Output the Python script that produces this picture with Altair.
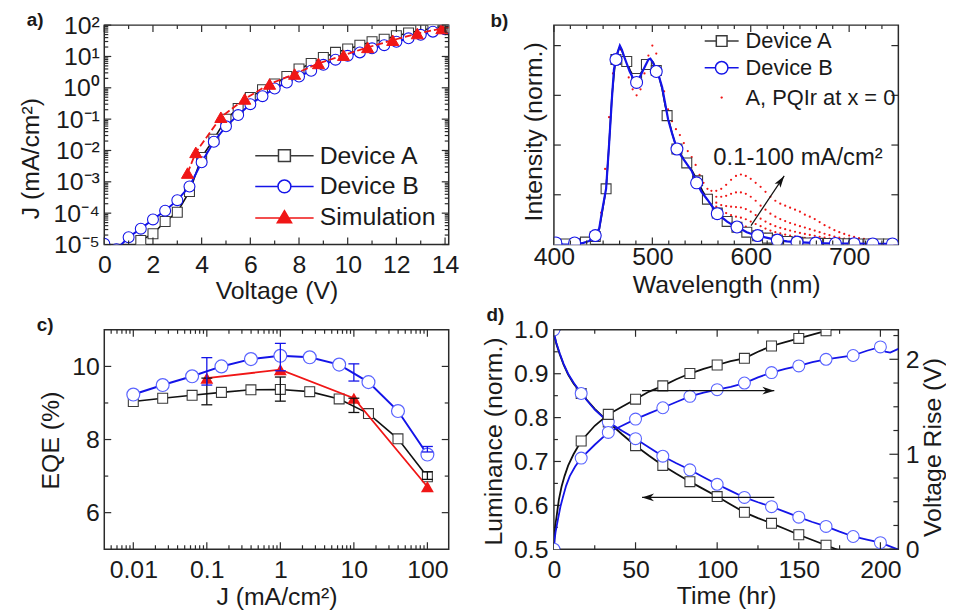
import altair as alt
import pandas as pd

FONT = "Liberation Sans"
INK = "#1a1a1a"
FRAME = "#2a2a2a"
BLACK = "#111111"
MGRAY = "#3a3a3a"
BLUE = "#1414e8"
MBLUE = "#5a64ff"
RED = "#f01616"
W, H = 347, 221

# ---------------- (a) J-V ----------------
A_V = [1.0, 1.5, 2.0, 2.5, 3.0, 3.5, 4.0, 4.5, 5.0, 5.5, 6.0, 6.5, 7.0, 7.5, 8.0, 8.5, 9.0, 9.5,
       10.0, 10.5, 11.0, 11.5, 12.0, 12.5, 13.0, 13.5, 14.0]
A_J = [6.3e-6, 1.35e-5, 2.2e-5, 5.4e-5, 1.07e-4, 4.9e-4, 6.0e-3, 2.3e-2, 0.10, 0.22, 0.49, 0.87,
       1.32, 2.3, 4.0, 6.0, 9.3, 13.5, 17.4, 22.9, 29.5, 35.5, 45.7, 56, 69, 79, 95]
B_V = [0.0, 0.5, 1.0, 1.5, 2.0, 2.5, 3.0, 3.5, 4.0, 4.5, 5.0, 5.5, 6.0, 6.5, 7.0, 7.5, 8.0, 8.5,
       9.0, 9.5, 10.0, 10.5, 11.0, 11.5, 12.0, 12.5, 13.0, 13.5, 14.0]
B_J = [1.05e-5, 7e-6, 1.7e-5, 3.2e-5, 6.3e-5, 1.2e-4, 2.6e-4, 7.1e-4, 4.2e-3, 1.9e-2, 5.9e-2,
       0.135, 0.30, 0.54, 0.95, 1.48, 2.3, 3.5, 5.4, 7.9, 10.5, 13.5, 18.2, 22.9, 29.5, 38, 49, 62, 74]
SIM_V = [3.42, 3.76, 4.79, 5.77, 6.79, 7.82, 8.80, 9.83, 10.82, 11.85, 12.86, 13.87]
SIM_J = [1.9e-3, 8.7e-3, 0.115, 0.44, 1.32, 2.75, 6.0, 11.0, 19.5, 33, 54, 78]
SIM_END_V = [14.6]
SIM_END_J = [97]
A_XTICKS = [0, 2, 4, 6, 8, 10, 12, 14]
A_XMINOR = [1, 3, 5, 7, 9, 11, 13]
A_YTICKS = [1e-5, 1e-4, 1e-3, 1e-2, 1e-1, 1e0, 1e1, 1e2]
A_YLABELS = ["10⁻⁵", "10⁻⁴", "10⁻³", "10⁻²", "10⁻¹", "10⁰", "10¹", "10²"]
A_LEGEND = ["Device A", "Device B", "Simulation"]

# ---------------- (b) spectra ----------------
B_LINE_WL = [400, 405, 410, 415, 421, 425, 430, 436, 442, 446, 449, 453, 456, 459, 461, 463, 465, 467,
             469, 471, 474, 477, 480, 482, 484, 487, 490, 493, 496, 498, 500, 502, 504, 507, 510, 513,
             516, 520, 525, 530, 535, 540, 545, 550, 556, 561, 566, 571, 576, 581, 586, 591, 596, 601,
             607, 617, 627, 637, 647, 657, 666, 686, 705, 724, 744, 750]
B_LINE_I = [0.007, 0.003, 0.0, 0.0, 0.005, 0.003, 0.008, 0.018, 0.045, 0.08, 0.17, 0.28, 0.5, 0.74,
            0.88, 0.93, 0.97, 1.0, 0.98, 0.95, 0.91, 0.87, 0.84, 0.83, 0.815, 0.84, 0.87, 0.90, 0.93,
            0.935, 0.92, 0.9, 0.87, 0.84, 0.79, 0.71, 0.63, 0.56, 0.48, 0.44, 0.405, 0.37, 0.31, 0.265,
            0.225, 0.19, 0.155, 0.135, 0.115, 0.1, 0.088, 0.075, 0.062, 0.053, 0.045, 0.033, 0.022,
            0.016, 0.012, 0.009, 0.007, 0.005, 0.004, 0.003, 0.003, 0.003]
B_MWL = [402, 421, 442, 463, 484, 504, 525, 545, 566, 586, 607, 627, 647, 666, 686, 705, 724, 744]
B_MI = [0.008, 0.008, 0.045, 0.93, 0.815, 0.87, 0.48, 0.31, 0.155, 0.088, 0.045, 0.022, 0.012, 0.007,
        0.005, 0.004, 0.003, 0.003]
A_LINE_WL = [400, 410, 420, 430, 436, 442, 446, 449, 453, 456, 459, 462, 465, 467, 469, 472, 475, 478,
             481, 484, 487, 490, 493, 496, 498, 501, 504, 507, 510, 513, 516, 520, 525, 530, 535, 540,
             546, 551, 556, 561, 566, 571, 576, 581, 586, 591, 596, 607, 617, 627, 637, 648, 658, 668,
             689, 709, 730, 750]
A_LINE_I = [0.004, 0.003, 0.004, 0.012, 0.02, 0.04, 0.075, 0.16, 0.28, 0.5, 0.75, 0.9, 0.97, 0.995,
            0.975, 0.935, 0.905, 0.87, 0.845, 0.835, 0.85, 0.875, 0.9, 0.925, 0.93, 0.915, 0.875, 0.84,
            0.78, 0.7, 0.64, 0.56, 0.48, 0.445, 0.41, 0.375, 0.32, 0.27, 0.228, 0.19, 0.158, 0.136,
            0.116, 0.1, 0.087, 0.074, 0.062, 0.044, 0.032, 0.022, 0.015, 0.011, 0.008, 0.006, 0.004,
            0.003, 0.003, 0.003]
A_MWL = [412, 422, 432, 442, 453, 463, 474, 484, 494, 504, 515, 525, 535, 546, 556, 566, 576, 586, 596,
         607, 617, 627, 637, 648, 658, 668, 679, 689, 699, 709, 720, 730, 740]
A_MI = [0.003, 0.004, 0.012, 0.04, 0.28, 0.93, 0.92, 0.835, 0.905, 0.875, 0.648, 0.48, 0.41, 0.32,
        0.228, 0.158, 0.116, 0.087, 0.062, 0.044, 0.032, 0.022, 0.015, 0.011, 0.008, 0.006, 0.005,
        0.004, 0.004, 0.003, 0.003, 0.003, 0.003]
R_HEAD_WL = [440, 444, 448, 452, 456, 460, 464, 468, 472, 476, 480, 484, 488, 492, 496, 500, 504, 508,
             512, 516, 520, 524, 528, 532, 536, 540, 544, 548, 552, 556]
R_HEAD = [0.02, 0.05, 0.16, 0.38, 0.64, 0.86, 0.96, 0.98, 0.92, 0.84, 0.78, 0.75, 0.78, 0.86, 0.95,
          1.0, 0.96, 0.88, 0.77, 0.68, 0.62, 0.58, 0.55, 0.51, 0.47, 0.44, 0.40, 0.35, 0.31, 0.28]
R_TAIL_WL = [560, 565, 570, 575, 580, 585, 590, 595, 600, 605, 610, 615, 620, 625, 630, 635, 640, 645,
             650, 655, 660, 665, 670, 675, 680, 685, 690, 695, 700, 705, 710, 715, 720, 725, 730, 735,
             740, 745]
R_TAIL_100 = [0.27, 0.27, 0.28, 0.30, 0.325, 0.345, 0.352, 0.345, 0.33, 0.31, 0.29, 0.265, 0.24, 0.22,
              0.205, 0.195, 0.185, 0.175, 0.165, 0.15, 0.14, 0.128, 0.113, 0.097, 0.085, 0.072, 0.062,
              0.053, 0.045, 0.038, 0.032, 0.028, 0.024, 0.02, 0.015, 0.011, 0.008, 0.005]
R_TAIL_30 = [0.25, 0.24, 0.24, 0.245, 0.255, 0.262, 0.262, 0.255, 0.24, 0.22, 0.195, 0.175, 0.155, 0.14,
             0.128, 0.118, 0.108, 0.1, 0.092, 0.085, 0.077, 0.07, 0.062, 0.054, 0.047, 0.04, 0.034,
             0.029, 0.025, 0.021, 0.018, 0.015, 0.012, 0.01, 0.008, 0.006, 0.005, 0.004]
R_TAIL_10 = [0.23, 0.21, 0.198, 0.193, 0.19, 0.188, 0.186, 0.178, 0.165, 0.148, 0.13, 0.115, 0.102,
             0.092, 0.084, 0.077, 0.07, 0.064, 0.058, 0.053, 0.048, 0.044, 0.039, 0.034, 0.03, 0.026,
             0.022, 0.019, 0.017, 0.014, 0.012, 0.01, 0.008, 0.007, 0.006, 0.005, 0.004, 0.003]
R_TAIL_1 = [0.22, 0.19, 0.172, 0.158, 0.148, 0.14, 0.135, 0.127, 0.115, 0.103, 0.092, 0.08, 0.07, 0.062,
            0.056, 0.05, 0.045, 0.041, 0.037, 0.033, 0.03, 0.027, 0.024, 0.021, 0.018, 0.016, 0.014,
            0.012, 0.01, 0.009, 0.008, 0.007, 0.006, 0.005, 0.004, 0.004, 0.003, 0.003]
R_TAIL_01 = [0.21, 0.18, 0.158, 0.138, 0.122, 0.11, 0.1, 0.09, 0.08, 0.07, 0.061, 0.053, 0.046, 0.04,
             0.035, 0.031, 0.027, 0.024, 0.021, 0.019, 0.017, 0.015, 0.013, 0.011, 0.01, 0.009, 0.008,
             0.007, 0.006, 0.005, 0.005, 0.004, 0.004, 0.003, 0.003, 0.003, 0.002, 0.002]
B_XTICKS = [400, 500, 600, 700]
B_XMINOR = [416.7, 433.3, 450, 466.7, 483.3, 516.7, 533.3, 550, 566.7, 583.3, 616.7, 633.3, 650, 666.7,
            683.3, 716.7, 733.3]
B_YTICKS = [0.25, 0.5, 0.75, 1.0]
B_LEGEND = ["Device A", "Device B", "A, PQIr at x = 0"]
B_NOTE = "0.1-100 mA/cm²"
B_NOTE_POS = (562, 0.435)
B_ARROW = (600.3, 0.095, 634, 0.345)

# ---------------- (c) EQE ----------------
C_J = [0.01, 0.0251, 0.0631, 0.158, 0.398, 1.0, 2.51, 6.31, 15.8, 39.8, 100]
C_A = [9.04, 9.13, 9.21, 9.29, 9.36, 9.37, 9.31, 9.11, 8.71, 8.02, 6.98]
C_B = [9.23, 9.49, 9.73, 10.0, 10.2, 10.29, 10.25, 10.05, 9.57, 8.78, 7.59]
C_SIM_J = [0.1, 1, 10, 100]
C_SIM = [9.68, 9.91, 9.13, 6.71]
C_ERR_J = [0.1, 1, 10, 100]
C_ERR_A_LO = [8.95, 9.05, 8.74, 6.91]
C_ERR_A_HI = [9.68, 9.71, 9.13, 7.12]
C_ERR_B_LO = [9.49, 9.88, 9.60, 7.66]
C_ERR_B_HI = [10.24, 10.63, 10.07, 7.81]
C_XTICKS = [0.01, 0.1, 1, 10, 100]
C_XMINOR = [m * 10.0 ** k for k in range(-3, 2) for m in range(2, 10) if 0.0041 < m * 10.0 ** k < 195]
C_YTICKS = [6, 8, 10]
C_YMINOR = [7, 9]

# ---------------- (d) lifetime ----------------
LUM_T = [0, 0.5, 1.5, 3.6, 6, 8.7, 12, 16.7, 25, 33.3, 41.7, 50, 58.3, 66.7, 75, 83.3, 91.7, 100,
         108.3, 116.7, 125, 133.3, 141.7, 150, 158.3, 166.7, 175, 183.3, 191.7, 200, 211]
LUM_B = [1.0, 0.985, 0.97, 0.946, 0.922, 0.90, 0.88, 0.855, 0.818, 0.79, 0.77, 0.752, 0.732, 0.712,
         0.696, 0.681, 0.664, 0.648, 0.633, 0.618, 0.607, 0.597, 0.585, 0.573, 0.562, 0.552, 0.54,
         0.529, 0.522, 0.515, 0.499]
LUM_A = [1.0, 0.984, 0.968, 0.944, 0.92, 0.898, 0.878, 0.855, 0.82, 0.79, 0.762, 0.736, 0.713, 0.691,
         0.672, 0.654, 0.637, 0.620, 0.602, 0.584, 0.571, 0.559, 0.546, 0.533, 0.521, 0.509, 0.497,
         0.485, 0.474, 0.463, 0.45]
VA_T = [0, 0.3, 0.8, 1.6, 3, 4.7, 6.5, 8.7, 12, 16.7, 25, 33.3, 41.7, 50, 58.3, 66.7, 75, 83.3, 91.7,
        100, 108.3, 116.7, 125, 133.3, 141.7, 150, 158.3, 166.7, 175]
VA = [0, 0.12, 0.25, 0.34, 0.52, 0.66, 0.77, 0.88, 1.0, 1.14, 1.30, 1.42, 1.50, 1.58, 1.66, 1.72, 1.79,
      1.85, 1.90, 1.94, 1.98, 2.01, 2.08, 2.14, 2.18, 2.22, 2.26, 2.30, 2.34]
VB_T = [0, 0.4, 1, 2.2, 4, 5.7, 7.5, 9.7, 13, 16.7, 25, 33.3, 41.7, 50, 58.3, 66.7, 75, 83.3, 91.7,
        100, 108.3, 116.7, 125, 133.3, 141.7, 150, 158.3, 166.7, 175, 183.3, 191.7, 200, 203, 206, 211]
VB = [0, 0.1, 0.18, 0.29, 0.45, 0.56, 0.67, 0.77, 0.87, 0.96, 1.10, 1.23, 1.30, 1.37, 1.43, 1.49, 1.55,
      1.61, 1.65, 1.68, 1.71, 1.75, 1.81, 1.86, 1.90, 1.93, 1.97, 2.0, 2.02, 2.04, 2.09, 2.13, 2.08,
      2.07, 2.11]
D_MARK_T = [0, 16.7, 33.3, 50, 66.7, 83.3, 100, 116.7, 133.3, 150, 166.7, 183.3, 200]
D_ARROW_R = (54, 135, 1.67)
D_ARROW_L = (135, 54, 0.618)
D_XTICKS = [0, 50, 100, 150, 200]
D_XMINOR = [25, 75, 125, 175]
D_YTICKS = [0.5, 0.6, 0.7, 0.8, 0.9, 1.0]
D_YMINOR = [0.55, 0.65, 0.75, 0.85, 0.95]
D_RTICKS = [0, 1, 2]
D_RMINOR = [0.25, 0.5, 0.75, 1.25, 1.5, 1.75, 2.25]

PANEL_LABELS = ["a)", "b)", "c)", "d)"]

# ---------------- helpers ----------------
MAJ, MIN = 7, 4


def axis(title, values=None, fmt=None, label_expr=None, labels=True, lpad=6, tx=None, ty=None,
         orient=None, tangle=None):
    kw = dict(title=title, grid=False, ticks=False, domain=False, tickSize=0, labels=labels,
              labelFont=FONT, titleFont=FONT, labelFontSize=25, titleFontSize=25,
              labelColor=INK, titleColor=INK, titleFontWeight="normal", labelPadding=lpad,
              titleBaseline="alphabetic", labelFlush=False, labelOverlap=False, labelBound=False)
    if values is not None:
        kw["values"] = values
    if fmt is not None:
        kw["format"] = fmt
    if label_expr is not None:
        kw["labelExpr"] = label_expr
    if tx is not None:
        kw["titleX"] = tx
    if ty is not None:
        kw["titleY"] = ty
    if orient is not None:
        kw["orient"] = orient
    if tangle is not None:
        kw["titleAngle"] = tangle
    return alt.Axis(**kw)


def X(f, s, a=None):
    return alt.X(f, scale=s, axis=a) if a is not None else alt.X(f, scale=s)


def Y(f, s, a=None):
    return alt.Y(f, scale=s, axis=a) if a is not None else alt.Y(f, scale=s)


def xy(xf, yf, xs, ys, xa=None, ya=None):
    return dict(x=X(xf, xs, xa), y=Y(yf, ys, ya))


def ticks(vals, scale, side, length):
    df = pd.DataFrame({"v": vals})
    m = alt.Chart(df).mark_rule(color=FRAME, strokeWidth=1.2)
    if side in ("bottom", "top"):
        enc = {"x": X("v:Q", scale)}
        if side == "bottom":
            enc["y"], enc["y2"] = alt.value(H), alt.value(H - length)
        else:
            enc["y"], enc["y2"] = alt.value(0), alt.value(length)
    else:
        enc = {"y": Y("v:Q", scale)}
        if side == "left":
            enc["x"], enc["x2"] = alt.value(0), alt.value(length)
        else:
            enc["x"], enc["x2"] = alt.value(W), alt.value(W - length)
    return m.encode(**enc)


def frame_ticks(xs, ys, xmaj, xmin, ymaj, ymin):
    out = []
    for side in ("bottom", "top"):
        out.append(ticks(xmaj, xs, side, MAJ))
        if xmin:
            out.append(ticks(xmin, xs, side, MIN))
    for side in ("left", "right"):
        out.append(ticks(ymaj, ys, side, MAJ))
        if ymin:
            out.append(ticks(ymin, ys, side, MIN))
    return out


def label(i, dx, dy):
    return alt.Chart(pd.DataFrame({"t": [PANEL_LABELS[i]]})).mark_text(
        align="left", baseline="alphabetic", font=FONT, fontSize=19, fontWeight="bold", color=INK
    ).encode(text="t:N", x=alt.value(dx), y=alt.value(dy))


def leg(path, lx, ly, loff, fs, size=144, sw=1.5):
    return alt.Legend(title=None, orient="none", legendX=lx, legendY=ly, symbolType=path,
                      symbolSize=size, symbolStrokeWidth=sw, labelFont=FONT, labelFontSize=fs,
                      labelColor=INK, labelOffset=loff, padding=0, symbolOpacity=1)


# ---------------- panel a ----------------
xs_a = alt.Scale(domain=[0, 14.15], nice=False, zero=False)
ys_a = alt.Scale(type="log", domain=[1e-5, 1e2], nice=False)
expr = ""
for v, l in zip(A_YTICKS[:-1], A_YLABELS[:-1]):
    expr += f"datum.value < {v * 3} ? '{l}' : "
expr += f"'{A_YLABELS[-1]}'"
xa = axis("Voltage (V)", values=A_XTICKS, fmt="d", lpad=8, tx=W / 2, ty=54)
ya = axis("J (mA/cm²)", values=A_YTICKS, label_expr=expr, lpad=5, tx=-66, ty=134)

dA = pd.DataFrame({"V": A_V, "J": A_J, "s": A_LEGEND[0]})
dB = pd.DataFrame({"V": B_V, "J": B_J, "s": A_LEGEND[1]})
dS = pd.DataFrame({"V": SIM_V, "J": SIM_J, "s": A_LEGEND[2]})
dSl = pd.DataFrame({"V": SIM_V + SIM_END_V, "J": SIM_J + SIM_END_J})

SQ_A = "M-4.9,0L-1,0M1,0L4.9,0M-1,-1L1,-1L1,1L-1,1Z"
CI_A = "M-4.9,0L-1.08,0M1.08,0L4.9,0M1.08,0A1.08,1.08,0,1,1,-1.08,0A1.08,1.08,0,1,1,1.08,0Z"
TR_A = "M-4.9,0.15L4.9,0.15M0,-1.1L1.2,0.95L-1.2,0.95Z"
LX_A, LOFF_A = 169, 23

pa_layers = [
    alt.Chart(dA).mark_line(color=BLACK, strokeWidth=1.6, clip=True).encode(
        **xy("V:Q", "J:Q", xs_a, ys_a, xa, ya)),
    alt.Chart(dA).mark_point(shape="square", size=100, filled=False, fill="white", strokeWidth=1.1,
                             opacity=1, clip=True).encode(
        **xy("V:Q", "J:Q", xs_a, ys_a),
        color=alt.Color("s:N", scale=alt.Scale(domain=[A_LEGEND[0]], range=[MGRAY]),
                        legend=leg(SQ_A, LX_A, 119, LOFF_A, 25))),
    alt.Chart(dB).mark_line(color=BLUE, strokeWidth=2, clip=True).encode(
        **xy("V:Q", "J:Q", xs_a, ys_a)),
    alt.Chart(dB).mark_point(shape="circle", size=121, filled=False, fill="white", strokeWidth=1.1,
                             opacity=1, clip=True).encode(
        **xy("V:Q", "J:Q", xs_a, ys_a),
        color=alt.Color("s:N", scale=alt.Scale(domain=[A_LEGEND[1]], range=[BLUE]),
                        legend=leg(CI_A, LX_A, 150, LOFF_A, 25))),
    alt.Chart(dSl).mark_line(color=RED, strokeWidth=1.8, strokeDash=[7, 3], clip=True).encode(
        **xy("V:Q", "J:Q", xs_a, ys_a)),
    alt.Chart(dS).mark_point(shape="triangle-up", size=150, filled=True, stroke=RED, strokeWidth=1,
                             opacity=1, clip=True).encode(
        **xy("V:Q", "J:Q", xs_a, ys_a),
        color=alt.Color("s:N", scale=alt.Scale(domain=[A_LEGEND[2]], range=[RED]),
                        legend=leg(TR_A, LX_A, 181, LOFF_A, 25))),
]
pa_layers += frame_ticks(xs_a, ys_a, A_XTICKS, A_XMINOR, A_YTICKS,
                         [m * 10.0 ** k for k in range(-5, 2) for m in range(2, 10)])
pa_layers.append(label(0, -78, 1))
pa = alt.layer(*pa_layers).resolve_scale(color="independent").properties(width=W, height=H)

# ---------------- panel b ----------------
xs_b = alt.Scale(domain=[400, 750], nice=False, zero=False)
ys_b = alt.Scale(domain=[0, 1.103], nice=False, zero=False)
xb = axis("Wavelength (nm)", values=B_XTICKS, fmt="d", lpad=0, tx=W / 2, ty=48)
yb = axis("Intensity (norm.)", values=B_YTICKS, labels=False, tx=-13, ty=107)

red_wl, red_i = list(R_HEAD_WL), list(R_HEAD)
for tail in (R_TAIL_100, R_TAIL_30, R_TAIL_10, R_TAIL_1, R_TAIL_01):
    red_wl += R_TAIL_WL
    red_i += tail
dR = pd.DataFrame({"wl": red_wl, "I": red_i, "s": B_LEGEND[2]})
dAl = pd.DataFrame({"wl": A_LINE_WL, "I": A_LINE_I})
dAm = pd.DataFrame({"wl": A_MWL, "I": A_MI, "s": B_LEGEND[0]})
dBl = pd.DataFrame({"wl": B_LINE_WL, "I": B_LINE_I})
dBm = pd.DataFrame({"wl": B_MWL, "I": B_MI, "s": B_LEGEND[1]})

SQ_B = "M-2.85,0L-0.9,0M0.9,0L2.85,0M-0.9,-0.9L0.9,-0.9L0.9,0.9L-0.9,0.9Z"
CI_B = "M-2.85,0L-1.05,0M1.05,0L2.85,0M1.05,0A1.05,1.05,0,1,1,-1.05,0A1.05,1.05,0,1,1,1.05,0Z"
DOT_B = "M0.2,0A0.2,0.2,0,1,1,-0.2,0A0.2,0.2,0,1,1,0.2,0Z"
LX_B, LOFF_B = 158, 13
UP_HEAD = "M0,0L0.5,1.7L0,1.3L-0.5,1.7Z"

dArrB = pd.DataFrame({"x0": [B_ARROW[0]], "y0": [B_ARROW[1]], "x1": [B_ARROW[2]], "y1": [B_ARROW[3]]})
dNote = pd.DataFrame({"x": [B_NOTE_POS[0]], "y": [B_NOTE_POS[1]], "t": [B_NOTE]})

pb_layers = [
    alt.Chart(dR).mark_point(shape="circle", size=5, filled=True, opacity=1, clip=True).encode(
        **xy("wl:Q", "I:Q", xs_b, ys_b, xb, yb),
        color=alt.Color("s:N", scale=alt.Scale(domain=[B_LEGEND[2]], range=[RED]),
                        legend=leg(DOT_B, LX_B, 62, LOFF_B, 22))),
    alt.Chart(dAl).mark_line(color=BLACK, strokeWidth=1.6, clip=True).encode(
        **xy("wl:Q", "I:Q", xs_b, ys_b)),
    alt.Chart(dAm).mark_point(shape="square", size=100, filled=False, fill="white", strokeWidth=1.1,
                              opacity=1, clip=True).encode(
        **xy("wl:Q", "I:Q", xs_b, ys_b),
        color=alt.Color("s:N", scale=alt.Scale(domain=[B_LEGEND[0]], range=[MGRAY]),
                        legend=leg(SQ_B, LX_B, 5, LOFF_B, 22))),
    alt.Chart(dBl).mark_line(color=BLUE, strokeWidth=2.2, clip=True).encode(
        **xy("wl:Q", "I:Q", xs_b, ys_b)),
    alt.Chart(dBm).mark_point(shape="circle", size=144, filled=False, fill="white", strokeWidth=1.1,
                              opacity=1, clip=True).encode(
        **xy("wl:Q", "I:Q", xs_b, ys_b),
        color=alt.Color("s:N", scale=alt.Scale(domain=[B_LEGEND[1]], range=[BLUE]),
                        legend=leg(CI_B, LX_B, 32, LOFF_B, 22))),
    alt.Chart(dArrB).mark_rule(color=BLACK, strokeWidth=1.2).encode(
        x=X("x0:Q", xs_b), y=Y("y0:Q", ys_b), x2="x1:Q", y2="y1:Q"),
    alt.Chart(dArrB).mark_point(shape=UP_HEAD, size=200, filled=True, color=BLACK, opacity=1,
                                angle=34).encode(**xy("x1:Q", "y1:Q", xs_b, ys_b)),
    alt.Chart(dNote).mark_text(align="left", baseline="middle", font=FONT, fontSize=24,
                               color=INK).encode(**xy("x:Q", "y:Q", xs_b, ys_b), text="t:N"),
]
pb_layers += frame_ticks(xs_b, ys_b, B_XTICKS, B_XMINOR, B_YTICKS, None)
pb_layers.append(label(1, -64, 2))
pb = alt.layer(*pb_layers).resolve_scale(color="independent").properties(width=W, height=H)

# ---------------- panel c ----------------
xs_c = alt.Scale(type="log", domain=[0.00403, 195], nice=False)
ys_c = alt.Scale(domain=[5, 11], nice=False, zero=False)
xc = axis("J (mA/cm²)", values=C_XTICKS, fmt="~g", lpad=8, tx=W / 2, ty=56)
yc = axis("EQE (%)", values=C_YTICKS, fmt="d", lpad=5, tx=-46, ty=111)
dcA = pd.DataFrame({"J": C_J, "E": C_A})
dcB = pd.DataFrame({"J": C_J, "E": C_B})
dcS = pd.DataFrame({"J": C_SIM_J, "E": C_SIM})
deA = pd.DataFrame({"J": C_ERR_J, "lo": C_ERR_A_LO, "hi": C_ERR_A_HI})
deB = pd.DataFrame({"J": C_ERR_J, "lo": C_ERR_B_LO, "hi": C_ERR_B_HI})


def errbars(df, col):
    r = alt.Chart(df).mark_rule(color=col, strokeWidth=1.3).encode(
        x=X("J:Q", xs_c), y=Y("lo:Q", ys_c), y2="hi:Q")
    t1 = alt.Chart(df).mark_tick(color=col, orient="horizontal", size=11, thickness=1.3,
                                 opacity=1).encode(**xy("J:Q", "lo:Q", xs_c, ys_c))
    t2 = alt.Chart(df).mark_tick(color=col, orient="horizontal", size=11, thickness=1.3,
                                 opacity=1).encode(**xy("J:Q", "hi:Q", xs_c, ys_c))
    return [r, t1, t2]


pc_layers = [
    alt.Chart(dcA).mark_line(color=BLACK, strokeWidth=1.6, clip=True).encode(
        **xy("J:Q", "E:Q", xs_c, ys_c, xc, yc)),
    alt.Chart(dcA).mark_point(shape="square", size=100, filled=False, fill="white", color=MGRAY,
                              strokeWidth=1.1, opacity=1, clip=True).encode(
        **xy("J:Q", "E:Q", xs_c, ys_c)),
    alt.Chart(dcB).mark_line(color=BLUE, strokeWidth=2, clip=True).encode(
        **xy("J:Q", "E:Q", xs_c, ys_c)),
    alt.Chart(dcB).mark_point(shape="circle", size=169, filled=False, fill="white", color=MBLUE,
                              strokeWidth=1.2, opacity=1, clip=True).encode(
        **xy("J:Q", "E:Q", xs_c, ys_c)),
    alt.Chart(dcS).mark_line(color=RED, strokeWidth=1.8, clip=True).encode(
        **xy("J:Q", "E:Q", xs_c, ys_c)),
    alt.Chart(dcS).mark_point(shape="triangle-up", size=169, filled=True, color=RED, opacity=1,
                              clip=True).encode(**xy("J:Q", "E:Q", xs_c, ys_c)),
]
pc_layers += errbars(deA, BLACK) + errbars(deB, BLUE)
pc_layers += frame_ticks(xs_c, ys_c, C_XTICKS, C_XMINOR, C_YTICKS, C_YMINOR)
pc_layers.append(label(2, -68, 1))
pc = alt.layer(*pc_layers).properties(width=W, height=H)

# ---------------- panel d ----------------
xs_d = alt.Scale(domain=[0, 211], nice=False, zero=False)
yl_d = alt.Scale(domain=[0.5, 1.0], nice=False, zero=False)
yr_d = alt.Scale(domain=[0, 2.31], nice=False, zero=False)
xd = axis("Time (hr)", values=D_XTICKS, fmt="d", lpad=8, tx=W / 2, ty=55)
yld = axis("Luminance (norm.)", values=D_YTICKS, fmt=".1f", lpad=6, tx=-53, ty=112)
yrd = axis("Voltage Rise (V)", values=D_RTICKS, fmt="d", lpad=7, tx=42, ty=118, orient="right",
           tangle=270)

dLA = pd.DataFrame({"t": LUM_T, "y": LUM_A})
dLB = pd.DataFrame({"t": LUM_T, "y": LUM_B})
dVA = pd.DataFrame({"t": VA_T, "y": VA})
dVB = pd.DataFrame({"t": VB_T, "y": VB})
RIGHT_HEAD = "M0,0L-1.7,-0.55L-1.2,0L-1.7,0.55Z"
LEFT_HEAD = "M0,0L1.7,-0.55L1.2,0L1.7,0.55Z"
dArrR = pd.DataFrame({"t0": [D_ARROW_R[0]], "t1": [D_ARROW_R[1]], "y": [D_ARROW_R[2]]})
dArrL = pd.DataFrame({"t0": [D_ARROW_L[0]], "t1": [D_ARROW_L[1]], "y": [D_ARROW_L[2]]})


def dseries(df, ys, col, mcol, shape, size, marks, xa=None, ya=None):
    line = alt.Chart(df).mark_line(color=col, strokeWidth=1.8, clip=True).encode(
        **xy("t:Q", "y:Q", xs_d, ys, xa, ya))
    pts = alt.Chart(df[df.t.isin(marks)]).mark_point(
        shape=shape, size=size, filled=False, fill="white", color=mcol, strokeWidth=1.1, opacity=1,
        clip=True).encode(**xy("t:Q", "y:Q", xs_d, ys))
    return [line, pts]


def arrow(df, ys, head):
    shaft = alt.Chart(df).mark_rule(color=BLACK, strokeWidth=1.2).encode(
        x=X("t0:Q", xs_d), x2="t1:Q", y=Y("y:Q", ys))
    tip = alt.Chart(df).mark_point(shape=head, size=200, filled=True, color=BLACK, opacity=1).encode(
        **xy("t1:Q", "y:Q", xs_d, ys))
    return [shaft, tip]


left = (dseries(dLA, yl_d, BLACK, MGRAY, "square", 100, D_MARK_T[1:], xd, yld)
        + dseries(dLB, yl_d, BLUE, MBLUE, "circle", 144, D_MARK_T)
        + arrow(dArrL, yl_d, LEFT_HEAD))
for side in ("bottom", "top"):
    left.append(ticks(D_XTICKS, xs_d, side, MAJ))
    left.append(ticks(D_XMINOR, xs_d, side, MIN))
left.append(ticks(D_YTICKS, yl_d, "left", MAJ))
left.append(ticks(D_YMINOR, yl_d, "left", MIN))
left.append(label(3, -68, -9))
right = (dseries(dVA, yr_d, BLACK, MGRAY, "square", 100, D_MARK_T[1:], None, yrd)
         + dseries(dVB, yr_d, BLUE, MBLUE, "circle", 144, D_MARK_T)
         + arrow(dArrR, yr_d, RIGHT_HEAD))
right.append(ticks(D_RTICKS, yr_d, "right", MAJ + 2))
right.append(ticks(D_RMINOR, yr_d, "right", MIN + 1))
pd_ = alt.layer(alt.layer(*left), alt.layer(*right)).resolve_scale(y="independent").properties(
    width=W, height=H)

chart = alt.concat(pa, pb, pc, pd_, columns=2, spacing={"row": 86, "column": 106},
                   bounds="flush").properties(
    padding={"left": 10, "top": 0, "right": 0, "bottom": 0}, background="white"
).configure_view(stroke=FRAME, strokeWidth=1.5)

chart.save("out.html", embed_options={"renderer": "svg", "actions": False})
